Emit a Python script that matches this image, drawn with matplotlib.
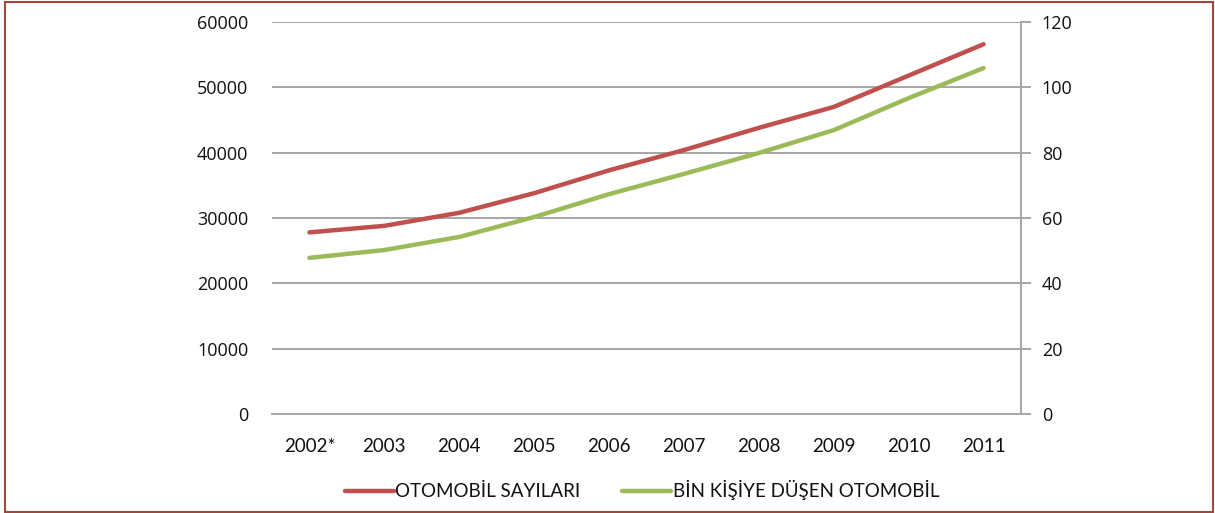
import numpy as np
import matplotlib
matplotlib.use('Agg')
from matplotlib import pyplot as plt
from matplotlib.patches import Rectangle

years = ['2002*', '2003', '2004', '2005', '2006', '2007', '2008', '2009', '2010', '2011']
otomobil = [27800, 28800, 30800, 33800, 37300, 40400, 43800, 47000, 51800, 56600]
bin_kisi = [47.8, 50.2, 54.2, 60.3, 67.3, 73.5, 79.9, 86.9, 96.7, 105.9]

red = '#C0504D'
green = '#9BBB59'
grid = '#A6A6A6'
txt = '#111111'

plt.rcParams['font.family'] = ['Lato', 'DejaVu Sans']

fig = plt.figure(figsize=(12.15, 5.13), dpi=100)
ax = fig.add_axes([272/1215, 1-414/513, (1021-272)/1215, (414-22)/513])
ax2 = ax.twinx()

x = np.arange(len(years))
l1, = ax.plot(x, otomobil, color=red, lw=3.2, solid_capstyle='round', label='OTOMOBİL SAYILARI')
l2, = ax2.plot(x, bin_kisi, color=green, lw=3.2, solid_capstyle='round', label='BİN KİŞİYE DÜŞEN OTOMOBİL')

ax.set_xlim(-0.5, len(years)-0.5)
ax.set_ylim(0, 60000)
ax2.set_ylim(0, 120)
ax.set_yticks(np.arange(0, 60001, 10000))
ax2.set_yticks(np.arange(0, 121, 20))
ax.set_xticks(x)
ax.set_xticklabels(years)

ax.grid(axis='y', color=grid, lw=1.4)
ax.set_axisbelow(True)
for s in ['top', 'left']:
    ax.spines[s].set_visible(False)
    ax2.spines[s].set_visible(False)
ax.spines['right'].set_visible(False)
ax2.spines['bottom'].set_visible(False)
ax.spines['bottom'].set_color(grid)
ax.spines['bottom'].set_linewidth(1.4)
ax2.spines['right'].set_color(grid)
ax2.spines['right'].set_linewidth(1.4)

ax.tick_params(axis='y', length=0, pad=17, labelsize=13, labelcolor=txt)
ax.tick_params(axis='x', length=0, pad=17, labelsize=13.5, labelcolor=txt)
ax2.tick_params(axis='y', length=7, width=1.4, color=grid, pad=8, labelsize=13, labelcolor=txt)
for t in ax.get_yticklabels() + ax2.get_yticklabels():
    t.set_family(['Open Sans', 'DejaVu Sans'])

leg = fig.legend(handles=[l1, l2], loc='center', bbox_to_anchor=(642/1215, 1-490/513), ncol=2,
                 frameon=False, fontsize=13.5, handlelength=2.6, handletextpad=0.1, columnspacing=2.2)
for t in leg.get_texts():
    t.set_color(txt)

fig.patches.append(Rectangle((5/1215, 1/513), 1208/1215, 510/513, transform=fig.transFigure,
                             fill=False, edgecolor='#9C4A40', lw=1.5))

fig.savefig('out.png', dpi=100)
